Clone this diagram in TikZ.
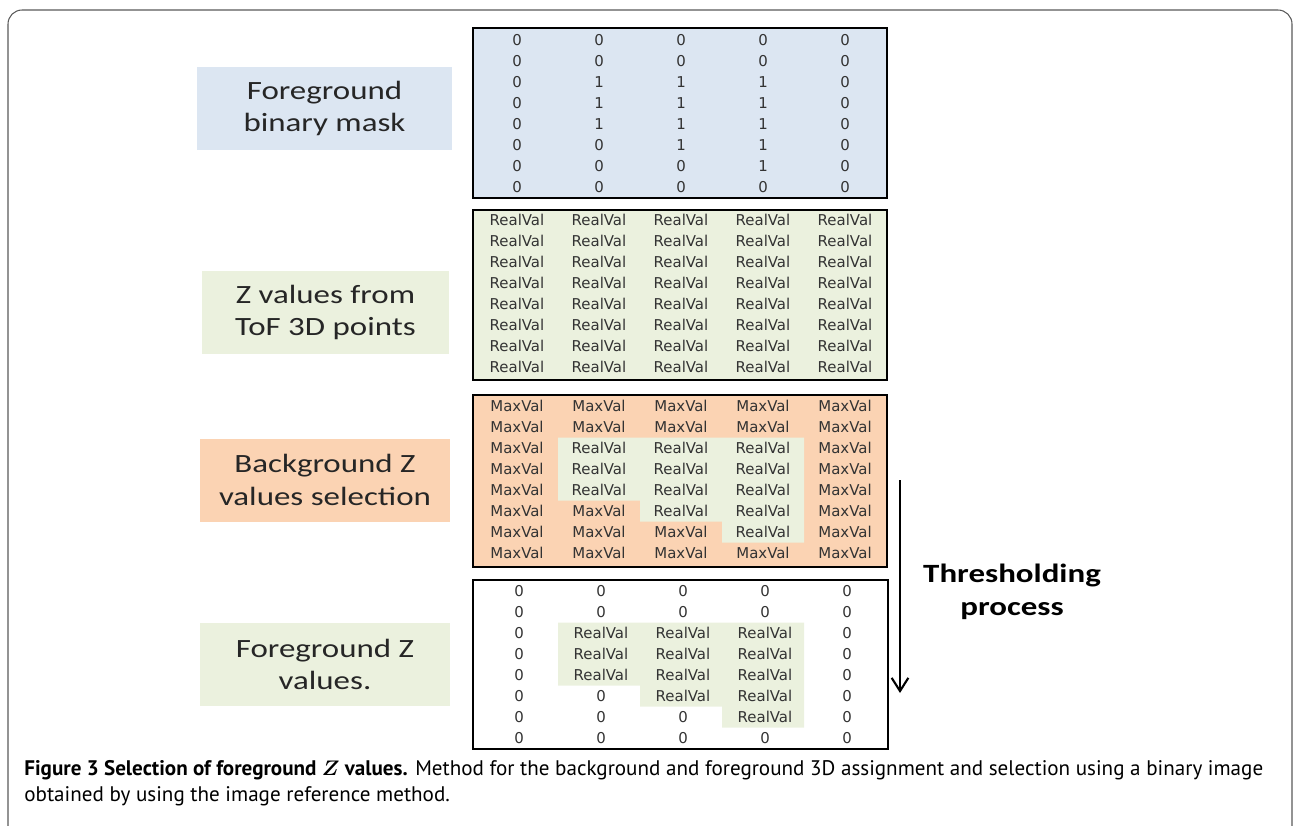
\documentclass[tikz,border=0pt]{standalone}
\usepackage{fontspec}
\setmainfont{Carlito}
\newfontfamily\lblfont[FakeStretch=1.25]{Carlito}
\newfontfamily\cellfont{DejaVu Sans}
\newfontfamily\capfont{PT Sans}
\usetikzlibrary{arrows.meta}
\definecolor{maskblue}{HTML}{DCE6F2}
\definecolor{valgreen}{HTML}{EBF1DE}
\definecolor{bgpeach}{HTML}{FBD3B3}
\definecolor{celltext}{HTML}{333333}
\tikzset{
  lbl/.style={align=center, inner sep=0pt, minimum height=1.66cm,
    font=\lblfont\fontsize{15}{18.7}\selectfont, text=black!85},
  cell/.style={inner sep=0pt, font=\cellfont\fontsize{8.5}{9}\selectfont, text=celltext},
  gridframe/.style={draw=black, line width=1.6pt}
}
\begin{document}
\begin{tikzpicture}[x=0.02cm, y=-0.02cm]
    \useasboundingbox (0,0) rectangle (1294,825);
    \draw[black!65, line width=0.6pt, rounded corners=8pt] (8,10) rectangle (1292,860);
    \node[lbl, fill=maskblue, minimum width=5.1cm] (lblmask) at (324.5,108.5) {Foreground\\binary mask};
    \node[lbl, fill=valgreen, minimum width=4.94cm] (lbltof) at (325.5,312.5) {Z values from\\ToF 3D points};
    \node[lbl, fill=bgpeach, minimum width=5cm] (lblback) at (325,480) {Background Z\\values selection};
    \node[lbl, fill=valgreen, minimum width=5cm] (lblfore) at (325,664.5) {Foreground Z\\values.};
    \begin{scope}
      \fill[maskblue] (473,28) rectangle (887,198);
      \fill[valgreen] (473,210) rectangle (887,380);
      \fill[bgpeach] (473,395) rectangle (887,567);
      \fill[valgreen] (558,437.5) -- (804,437.5) -- (804,542.5) -- (722,542.5) -- (722,521.5)
        -- (640,521.5) -- (640,500.5) -- (558,500.5) -- cycle;
      \fill[valgreen] (558,622.5) -- (804,622.5) -- (804,727.5) -- (722,727.5) -- (722,706.5)
        -- (640,706.5) -- (640,685.5) -- (558,685.5) -- cycle;
    \end{scope}
    \foreach \r in {1,...,8}{
      \foreach \c in {1,...,5}{
        \pgfmathtruncatemacro\inmask{((\r>=3 && \r<=5 && \c>=2 && \c<=4) || (\r==6 && \c>=3 && \c<=4) || (\r==7 && \c==4)) ? 1 : 0}
        \ifnum\inmask=1
          \def\maskval{1}\def\backval{RealVal}\def\foreval{RealVal}
        \else
          \def\maskval{0}\def\backval{MaxVal}\def\foreval{0}
        \fi
        \node[cell] (mask-\r-\c) at ({517+82*(\c-1)},{40+21*(\r-1)}) {\maskval};
        \node[cell] (tof-\r-\c) at ({517+82*(\c-1)},{220+21*(\r-1)}) {RealVal};
        \node[cell] (back-\r-\c) at ({517+82*(\c-1)},{406+21*(\r-1)}) {\backval};
        \node[cell] (fore-\r-\c) at ({519+82*(\c-1)},{591+21*(\r-1)}) {\foreval};
      }
    }
    \begin{scope}[gridframe]
      \draw (473,28) rectangle (887,198);
      \draw (473,210) rectangle (887,380);
      \draw (473,395) rectangle (887,567);
      \draw (473,580) rectangle (888,749);
    \end{scope}
    \coordinate (thrtop) at (900,480);
    \coordinate (thrbot) at (900,693);
    \draw[line width=1.2pt, -{Straight Barb[length=7.5pt, width=9.5pt]}] (thrtop) -- (thrbot);
    \node[align=center, font=\lblfont\bfseries\fontsize{15}{19}\selectfont] (thrlbl) at (1012,592) {Thresholding\\process};
    \node[anchor=base west, align=left, inner sep=0pt, font=\capfont\fontsize{12}{14.7}\selectfont] (caption) at (24,801)
      {\textbf{Figure 3 Selection of foreground {\boldmath$Z$} values.} Method for the background and foreground 3D assignment and selection using a binary image\\
       obtained by using the image reference method.};
  \end{tikzpicture}
\end{document}
